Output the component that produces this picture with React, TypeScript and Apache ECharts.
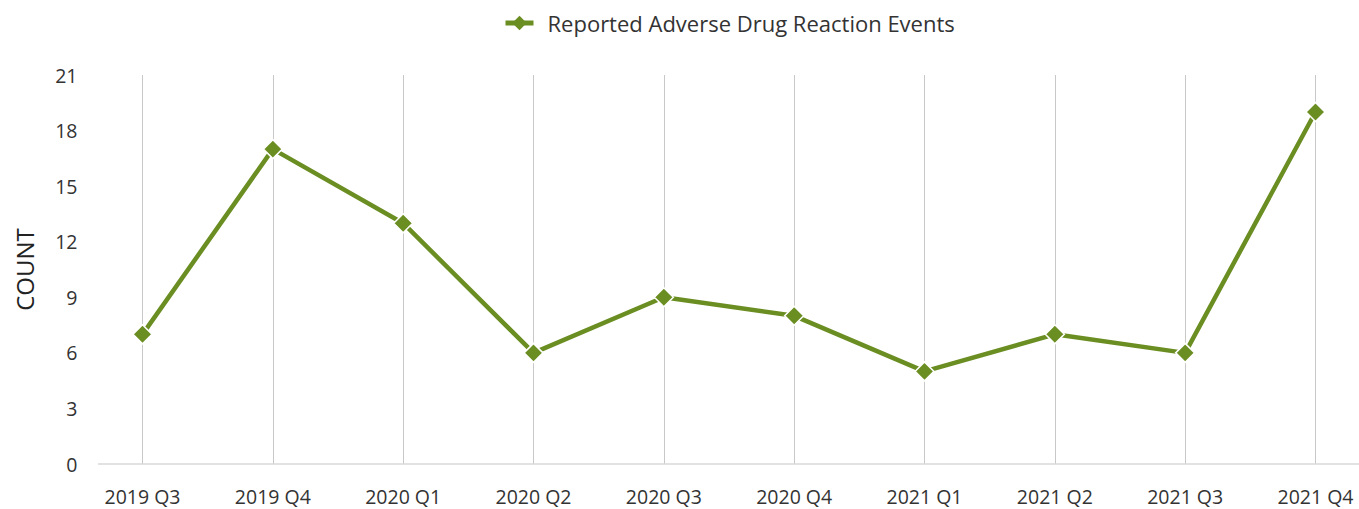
import React, { useEffect, useRef } from "react";
import * as echarts from "echarts";

const categories = ["2019 Q3", "2019 Q4", "2020 Q1", "2020 Q2", "2020 Q3", "2020 Q4", "2021 Q1", "2021 Q2", "2021 Q3", "2021 Q4"];
const seriesName = "Reported Adverse Drug Reaction Events";
const values = [7, 17, 13, 6, 9, 8, 5, 7, 6, 19];
const yTicks = [0, 3, 6, 9, 12, 15, 18, 21];

const FONT = "'Open Sans', 'Noto Sans', sans-serif";

export default function App() {
  const ref = useRef<HTMLDivElement>(null);
  useEffect(() => {
    if (!ref.current) return;
    const chart = echarts.init(ref.current, undefined, { renderer: "svg" });
    chart.setOption({
      animation: false,
      textStyle: { fontFamily: FONT },
      legend: {
        top: 12,
        left: 503,
        padding: 0,
        itemWidth: 28,
        itemHeight: 18,
        itemGap: 10,
        lineStyle: { width: 5 },
        itemStyle: { borderWidth: 0 },
        textStyle: { fontSize: 22, color: "#333", fontFamily: FONT, padding: [0, 0, 0, 9] },
        data: [seriesName],
      },
      grid: { left: 142.5, right: 43.5, top: 75, bottom: 45 },
      xAxis: {
        type: "category",
        data: categories,
        boundaryGap: false,
        axisLine: { show: false },
        axisTick: { show: false },
        axisLabel: { fontSize: 19.5, color: "#333", margin: 22, fontFamily: FONT },
        splitLine: { show: true, lineStyle: { color: "#c8c8c8", width: 1 } },
      },
      yAxis: {
        type: "value",
        min: yTicks[0],
        max: yTicks[yTicks.length - 1],
        interval: 3,
        name: "COUNT",
        nameLocation: "middle",
        nameGap: 106,
        nameRotate: 90,
        nameTextStyle: { fontSize: 24, color: "#222", fontFamily: FONT },
        axisLine: { show: false },
        axisTick: { show: false },
        splitLine: { show: false },
        axisLabel: { fontSize: 19.5, color: "#333", margin: 65, fontFamily: FONT },
      },
      graphic: [
        {
          type: "line",
          shape: { x1: 98, y1: 464, x2: 1359, y2: 464 },
          style: { stroke: "#d9d9d9", lineWidth: 1.5 },
          z: 1,
        },
      ],
      series: [
        {
          name: seriesName,
          type: "line",
          data: values,
          symbol: "diamond",
          symbolSize: 19,
          lineStyle: { color: "#6b8e23", width: 4.5 },
          itemStyle: { color: "#6b8e23", borderColor: "#fff", borderWidth: 1.5 },
          z: 3,
        },
      ],
    });
    return () => chart.dispose();
  }, []);
  return <div ref={ref} style={{ width: 1359, height: 509, position: "absolute", left: 0, top: 0 }} />;
}
